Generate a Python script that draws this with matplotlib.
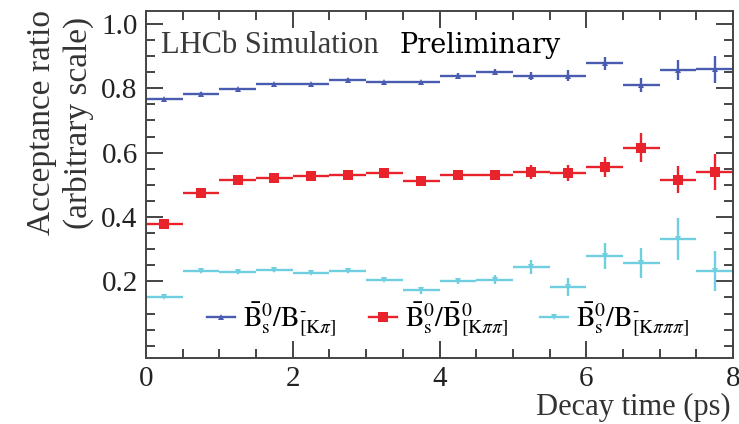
import matplotlib
matplotlib.use('Agg')
import matplotlib.pyplot as plt
import numpy as np
from matplotlib.ticker import MultipleLocator

plt.rcParams['font.family'] = 'Liberation Serif'
plt.rcParams['mathtext.fontset'] = 'stix'

# bin centres (ps), half width
t = [0.25, 0.75, 1.25, 1.75, 2.25, 2.75, 3.25, 3.75,
     4.25, 4.75, 5.25, 5.75, 6.25, 6.75, 7.25, 7.75]
t_half = 0.25

ratio_kpi = [0.767, 0.783, 0.798, 0.813, 0.813, 0.827, 0.818, 0.818,
             0.839, 0.851, 0.837, 0.839, 0.878, 0.810, 0.857, 0.859]
err_kpi = [0.004, 0.004, 0.004, 0.004, 0.004, 0.005, 0.005, 0.005,
           0.008, 0.010, 0.012, 0.018, 0.020, 0.022, 0.032, 0.042]

ratio_kpipi = [0.378, 0.475, 0.516, 0.522, 0.526, 0.529, 0.536, 0.511,
               0.530, 0.531, 0.540, 0.538, 0.555, 0.615, 0.516, 0.540]
err_kpipi = [0.006, 0.006, 0.006, 0.006, 0.006, 0.007, 0.007, 0.008,
             0.012, 0.016, 0.022, 0.025, 0.032, 0.045, 0.042, 0.056]

ratio_k3pi = [0.153, 0.231, 0.228, 0.234, 0.226, 0.231, 0.205, 0.172,
              0.202, 0.205, 0.245, 0.184, 0.278, 0.257, 0.332, 0.231]
err_k3pi = [0.004, 0.004, 0.004, 0.004, 0.004, 0.004, 0.005, 0.010,
            0.010, 0.014, 0.022, 0.028, 0.040, 0.047, 0.065, 0.062]

labels = [r'$\bar{\mathrm{B}}^0_\mathrm{s}/\mathrm{B}^{\text{-}}_{[\mathrm{K}\pi]}$',
          r'$\bar{\mathrm{B}}^0_\mathrm{s}/\bar{\mathrm{B}}^0_{[\mathrm{K}\pi\pi]}$',
          r'$\bar{\mathrm{B}}^0_\mathrm{s}/\mathrm{B}^{\text{-}}_{[\mathrm{K}\pi\pi\pi]}$']
colors = ['#4a5cb0', '#e8232b', '#6fcfe0']
markers = ['^', 's', 'v']
msizes = [5, 7.5, 5]

fig = plt.figure(figsize=(7.39, 4.24), dpi=100)
ax = fig.add_axes([146 / 739, 1 - 358 / 424, 587 / 739, 347 / 424])

series = [(ratio_kpi, err_kpi), (ratio_kpipi, err_kpipi), (ratio_k3pi, err_k3pi)]
handles = []
for (vals, errs), c, m, ms, lab in zip(series, colors, markers, msizes, labels):
    ax.errorbar(t, vals, xerr=t_half, yerr=errs, fmt=m, color=c, ms=ms,
                elinewidth=1.7, capsize=0, mew=0)
    h, = ax.plot([], [], color=c, marker=m, ms=ms, lw=1.7, mew=0, label=lab)
    handles.append(h)

ax.set_xlim(0, 8)
ax.set_ylim(-0.038, 1.04)
ax.xaxis.set_minor_locator(MultipleLocator(0.5))
ax.yaxis.set_minor_locator(MultipleLocator(0.05))
ax.set_yticks([0.2, 0.4, 0.6, 0.8, 1.0])
ax.set_yticklabels(['0.2', '0.4', '0.6', '0.8', '1.0'])
ax.set_xticks([0, 2, 4, 6, 8])
ax.set_xticklabels(['0', '2', '4', '6', '8'])
ax.tick_params(which='both', direction='in', top=True, right=True,
               color='#444444', width=1.4, labelsize=21, labelcolor='#222222')
ax.tick_params(which='major', length=12, pad=6)
ax.tick_params(which='minor', length=6.5)
for s in ax.spines.values():
    s.set_color('#444444')
    s.set_linewidth(1.4)

ax.text(0.2, 0.933, 'LHCb Simulation', fontsize=22, color='#3a3a3a', va='center')
ax.text(3.46, 0.933, 'Preliminary', fontsize=19.5, family='DejaVu Serif', va='center')

ax.legend(handles=handles, loc='center', bbox_to_anchor=(0.515, 0.11), ncol=3,
          frameon=False, fontsize=20, handlelength=1.0, handletextpad=0.3,
          columnspacing=1.15)

fig.text(60 / 739, 1 - 10 / 424, 'Acceptance ratio\n(arbitrary scale)', rotation=90,
         ha='center', va='top', fontsize=24, color='#333333', linespacing=1.25)
fig.text(731 / 739, 1 - 422 / 424, 'Decay time (ps)', ha='right', va='bottom',
         fontsize=22, color='#333333')

fig.savefig('out.png', dpi=100)
